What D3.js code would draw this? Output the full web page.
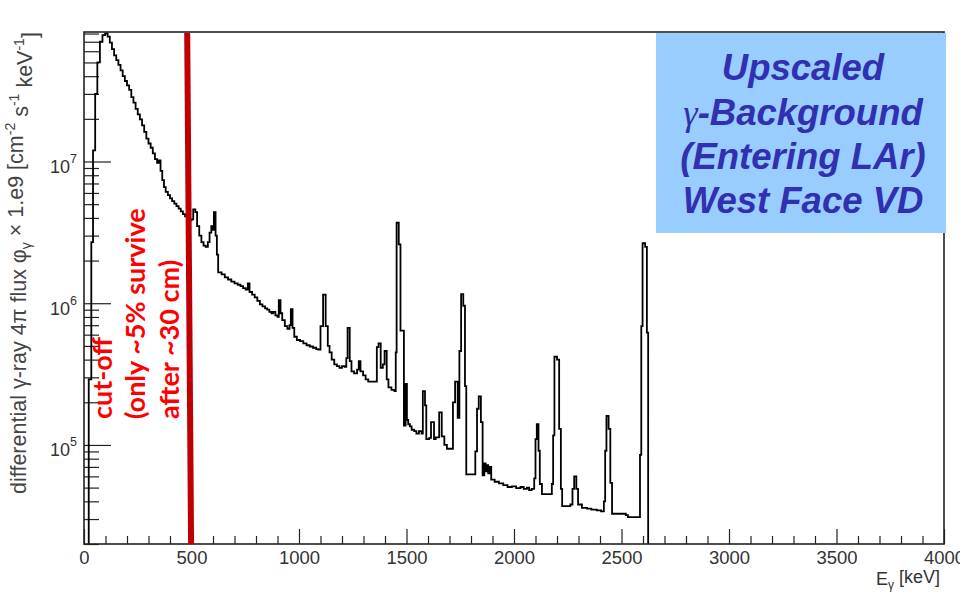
<!DOCTYPE html>
<html>
<head>
<meta charset="utf-8">
<script src="https://cdn.jsdelivr.net/npm/d3@7"></script>
<style>
  html, body { margin: 0; padding: 0; background: #fff; }
  svg { display: block; }
</style>
</head>
<body>
<svg id="chart" width="960" height="592"></svg>
<script>
// Spectrum: lower bin edges (keV) and flux per bin (cm^-2 s^-1 keV^-1, x 1e9)
const energies = [
  0, 22, 34, 42, 52, 62, 74, 86, 98, 110,
  120, 130, 140, 150, 160, 170, 180, 190, 200, 210,
  220, 230, 240, 250, 260, 270, 280, 290, 300, 310,
  320, 330, 340, 348, 356, 364, 372, 380, 390, 400,
  410, 420, 430, 440, 450, 460, 470, 480, 490, 500,
  508, 518, 526, 536, 546, 556, 566, 576, 584, 592,
  600, 604, 612, 618, 624, 640, 655, 670, 685, 700,
  715, 728, 740, 752, 762, 770, 782, 794, 806, 818,
  830, 842, 852, 862, 872, 880, 890, 900, 906, 914,
  922, 934, 946, 956, 962, 970, 978, 990, 1005, 1020,
  1035, 1050, 1065, 1080, 1090, 1100, 1112, 1124, 1134, 1142,
  1152, 1164, 1176, 1188, 1200, 1212, 1220, 1226, 1236, 1244,
  1256, 1270, 1278, 1286, 1298, 1310, 1322, 1336, 1350, 1362,
  1370, 1380, 1390, 1398, 1408, 1416, 1430, 1444, 1450, 1454,
  1464, 1472, 1488, 1496, 1502, 1508, 1516, 1524, 1536, 1546,
  1558, 1570, 1576, 1586, 1592, 1606, 1614, 1628, 1636, 1652,
  1664, 1676, 1688, 1716, 1726, 1738, 1746, 1754, 1764, 1772,
  1778, 1820, 1828, 1836, 1846, 1854, 1862, 1868, 1874, 1880,
  1886, 1894, 1910, 1930, 1950, 1970, 1990, 2010, 2030, 2045,
  2060, 2070, 2082, 2094, 2100, 2106, 2114, 2120, 2130, 2176,
  2182, 2188, 2200, 2210, 2218, 2224, 2262, 2272, 2280, 2290,
  2298, 2316, 2340, 2360, 2385, 2405, 2418, 2424, 2430, 2440,
  2448, 2456, 2520, 2530, 2586, 2592, 2598, 2610, 2618, 2624
];
const flux = [
  1e3, 2.9e5, 2.7e6, 1.2e7, 3.0e7, 5.0e7, 7.0e7, 7.8e7, 8.0e7, 7.6e7,
  6.9e7, 6.2e7, 5.6e7, 5.2e7, 4.8e7, 4.4e7, 4.0e7, 3.7e7, 3.45e7, 3.2e7,
  2.85e7, 2.6e7, 2.35e7, 2.15e7, 1.98e7, 1.8e7, 1.62e7, 1.45e7, 1.34e7, 1.25e7,
  1.14e7, 1.04e7, 9.8e6, 1.02e7, 8.6e6, 7.4e6, 6.6e6, 6.1e6, 5.8e6, 5.5e6,
  5.25e6, 5.05e6, 4.85e6, 4.65e6, 4.45e6, 4.25e6, 4.1e6, 3.95e6, 3.85e6, 3.9e6,
  4.6e6, 4.4e6, 3.5e6, 3.0e6, 2.7e6, 2.55e6, 2.5e6, 2.7e6, 3.15e6, 3.5e6,
  3.3e6, 4.4e6, 3.0e6, 2.2e6, 1.65e6, 1.6e6, 1.52e6, 1.47e6, 1.42e6, 1.38e6,
  1.35e6, 1.32e6, 1.28e6, 1.25e6, 1.38e6, 1.2e6, 1.15e6, 1.1e6, 1.04e6, 9.8e5,
  9.5e5, 9.2e5, 9.0e5, 8.7e5, 8.5e5, 8.7e5, 8.2e5, 8.0e5, 1.05e6, 8.5e5,
  7.6e5, 6.9e5, 6.6e5, 7.0e5, 9.1e5, 6.7e5, 5.8e5, 5.5e5, 5.4e5, 5.2e5,
  5.05e5, 4.95e5, 4.85e5, 4.75e5, 4.7e5, 6.9e5, 1.15e6, 6.9e5, 5.0e5, 4.5e5,
  4.0e5, 3.7e5, 3.6e5, 3.5e5, 3.6e5, 3.55e5, 4.1e5, 6.7e5, 3.9e5, 3.3e5,
  3.2e5, 3.4e5, 3.9e5, 3.3e5, 3.1e5, 2.9e5, 2.8e5, 2.8e5, 2.8e5, 4.9e5,
  5.2e5, 3.5e5, 3.7e5, 4.6e5, 2.9e5, 2.55e5, 2.45e5, 2.4e5, 4.5e5, 3.7e6,
  2.6e6, 6.4e5, 1.37e5, 2.7e5, 1.5e5, 1.4e5, 1.35e5, 1.28e5, 1.25e5, 1.2e5,
  1.25e5, 1.2e5, 2.4e5, 1.9e5, 1.1e5, 1.12e5, 1.45e5, 1.1e5, 1.13e5, 1.7e5,
  1.15e5, 1.0e5, 9.4e4, 2.0e5, 2.8e5, 1.55e5, 4.6e5, 1.16e6, 9.6e5, 2.6e5,
  6.2e4, 9.0e4, 1.8e5, 2.2e5, 1.45e5, 6.1e4, 7.4e4, 6.5e4, 7.2e4, 6.3e4,
  7.0e4, 5.7e4, 5.5e4, 5.35e4, 5.2e4, 5.05e4, 5.1e4, 4.95e4, 5.05e4, 4.9e4,
  5.0e4, 4.8e4, 4.9e4, 5.8e4, 1.1e5, 1.4e5, 9.1e4, 5.3e4, 4.5e4, 5.3e4,
  1.17e5, 4.2e5, 4.0e5, 1.3e5, 4.9e4, 3.7e4, 3.8e4, 4.9e4, 6.0e4, 4.9e4,
  3.8e4, 3.6e4, 3.55e4, 3.5e4, 3.45e4, 3.4e4, 4.0e4, 9.1e4, 1.6e5, 1.3e5,
  5.4e4, 3.27e4, 3.2e4, 3.1e4, 8.5e4, 6.9e5, 2.65e6, 2.5e6, 6.2e5, 1e3
];

const xMajorTicks = [0, 500, 1000, 1500, 2000, 2500, 3000, 3500, 4000];
const yMajorTicks = [1e5, 1e6, 1e7];
const legendLines = ["Upscaled", "-Background", "(Entering LAr)", "West Face VD"];
const noteLines = ["cut-off", "(only ~5% survive", "after ~30 cm)"];
const cutoffTopKeV = 480;
const cutoffBottomKeV = 498;

const svg = d3.select("#chart");
const frame = { left: 84, right: 944, top: 32, bottom: 544 };

const x = d3.scaleLinear().domain([0, 4000]).range([frame.left, frame.right]);
const y = d3.scaleLog().domain([2e4, 8.2e7]).range([frame.bottom, frame.top]);

const labelFont = "'Liberation Sans', Arial, Helvetica, sans-serif";
const axisInk = "#222";

svg.append("defs").append("clipPath").attr("id", "plot-clip")
  .append("rect")
  .attr("x", frame.left).attr("y", frame.top)
  .attr("width", frame.right - frame.left)
  .attr("height", frame.bottom - frame.top);

// x axis: minor ticks every 100 keV, labelled major ticks every 500 keV
const xMinor = d3.range(0, 4001, 100).filter(v => v % 500 !== 0);
svg.append("g")
  .attr("transform", `translate(0,${frame.bottom})`)
  .call(d3.axisBottom(x).tickValues(xMinor).tickSize(-8).tickFormat(""))
  .call(g => g.select(".domain").remove())
  .call(g => g.selectAll("line").attr("stroke", axisInk).attr("stroke-width", 1.2));

svg.append("g")
  .attr("transform", `translate(0,${frame.bottom})`)
  .call(d3.axisBottom(x).tickValues(xMajorTicks).tickSize(-15).tickPadding(7).tickFormat(d3.format("d")))
  .call(g => g.select(".domain").remove())
  .call(g => g.selectAll("line").attr("stroke", axisInk).attr("stroke-width", 1.2))
  .call(g => g.selectAll("text")
    .attr("font-family", labelFont).attr("font-size", 18.5).attr("fill", "#333"));

// y axis: log decades with 2..9 minor ticks
const yMinor = [];
for (let k = 4; k <= 7; k++) {
  for (let m = 2; m <= 9; m++) {
    const v = m * Math.pow(10, k);
    if (v >= 2e4 && v <= 8.2e7) yMinor.push(v);
  }
}
svg.append("g")
  .attr("transform", `translate(${frame.left},0)`)
  .call(d3.axisLeft(y).tickValues(yMinor).tickSize(-15).tickFormat(""))
  .call(g => g.select(".domain").remove())
  .call(g => g.selectAll("line").attr("stroke", axisInk).attr("stroke-width", 1.2));

svg.append("g")
  .attr("transform", `translate(${frame.left},0)`)
  .call(d3.axisLeft(y).tickValues(yMajorTicks).tickSize(-27).tickPadding(7).tickFormat(() => ""))
  .call(g => g.select(".domain").remove())
  .call(g => g.selectAll("line").attr("stroke", axisInk).attr("stroke-width", 1.2))
  .call(g => g.selectAll(".tick text").each(function (d) {
    const t = d3.select(this)
      .attr("font-family", labelFont).attr("font-size", 18).attr("fill", "#333")
      .attr("dy", "0.6em");
    t.append("tspan").text("10");
    t.append("tspan").attr("font-size", 12.5).attr("dy", "-0.8em")
      .text(Math.round(Math.log10(d)));
  }));

// spectrum as a step histogram
const points = energies.map((e, i) => [e, flux[i]]);
const line = d3.line()
  .x(d => x(d[0]))
  .y(d => y(Math.max(d[1], 1)))
  .curve(d3.curveStepAfter);

svg.append("path")
  .datum(points)
  .attr("clip-path", "url(#plot-clip)")
  .attr("fill", "none")
  .attr("stroke", "#000")
  .attr("stroke-width", 1.8)
  .attr("stroke-linejoin", "miter")
  .attr("d", line);

// frame
svg.append("rect")
  .attr("x", frame.left).attr("y", frame.top)
  .attr("width", frame.right - frame.left)
  .attr("height", frame.bottom - frame.top)
  .attr("fill", "none").attr("stroke", axisInk).attr("stroke-width", 1.6);

// axis titles
svg.append("text")
  .attr("transform", `translate(26,263) rotate(-90)`)
  .attr("text-anchor", "middle")
  .attr("font-family", labelFont).attr("font-size", 21.5).attr("fill", "#444")
  .call(t => {
    t.append("tspan").text("differential \u03B3-ray 4\u03C0 flux \u03C6");
    t.append("tspan").attr("font-size", 14).attr("dy", "0.35em").text("\u03B3");
    t.append("tspan").attr("dy", "-0.35em").text(" \u00D7 1.e9  [cm");
    t.append("tspan").attr("font-size", 14).attr("dy", "-0.6em").text("-2");
    t.append("tspan").attr("dy", "0.6em").text(" s");
    t.append("tspan").attr("font-size", 14).attr("dy", "-0.6em").text("-1");
    t.append("tspan").attr("dy", "0.6em").text(" keV");
    t.append("tspan").attr("font-size", 14).attr("dy", "-0.6em").text("-1");
    t.append("tspan").attr("dy", "0.6em").text("]");
  });

svg.append("text")
  .attr("x", 940).attr("y", 585)
  .attr("text-anchor", "end")
  .attr("font-family", labelFont).attr("font-size", 18).attr("fill", "#333")
  .call(t => {
    t.append("tspan").text("E");
    t.append("tspan").attr("font-size", 12).attr("dy", "0.3em").text("\u03B3");
    t.append("tspan").attr("dy", "-0.3em").text(" [keV]");
  });

// cut-off marker
svg.append("line")
  .attr("x1", x(cutoffTopKeV)).attr("y1", frame.top + 1)
  .attr("x2", x(cutoffBottomKeV)).attr("y2", frame.bottom)
  .attr("stroke", "#c00000").attr("stroke-width", 6);

const noteX = [112, 145, 179];
svg.append("g").selectAll("text")
  .data(noteLines)
  .join("text")
  .attr("transform", (d, i) => `translate(${noteX[i]},419) rotate(-90)`)
  .attr("text-anchor", "start")
  .attr("font-family", "Lato, 'Open Sans', sans-serif")
  .attr("font-weight", "bold")
  .attr("font-size", 27)
  .attr("fill", "#ff0000")
  .text(d => d);

// title box
const box = { x0: 656, x1: 946, y0: 33, y1: 233 };
svg.append("rect")
  .attr("x", box.x0).attr("y", box.y0)
  .attr("width", box.x1 - box.x0).attr("height", box.y1 - box.y0)
  .attr("fill", "#99ccff");

const legendBase = [80, 125, 169, 213];
svg.append("g").selectAll("text")
  .data(legendLines)
  .join("text")
  .attr("x", (box.x0 + box.x1) / 2 + 2)
  .attr("y", (d, i) => legendBase[i])
  .attr("text-anchor", "middle")
  .attr("font-family", labelFont)
  .attr("font-weight", "bold")
  .attr("font-style", "italic")
  .attr("font-size", 36.5)
  .attr("fill", "#3030b0")
  .each(function (d, i) {
    const t = d3.select(this);
    if (i === 1) {
      t.append("tspan").attr("font-family", "'Liberation Serif', 'DejaVu Serif', serif")
        .attr("font-weight", "normal").text("\u03B3");
      t.append("tspan").text(d);
    } else {
      t.text(d);
    }
  });
</script>
</body>
</html>
